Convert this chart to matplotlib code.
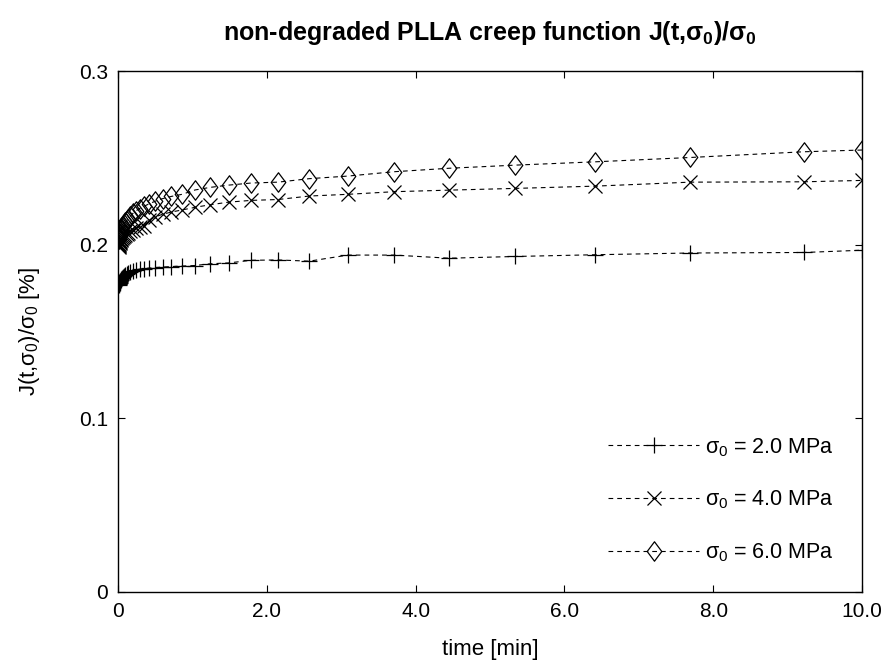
import matplotlib
matplotlib.use("Agg")
import matplotlib.pyplot as plt
from matplotlib.path import Path
from matplotlib import font_manager

names = {f.name for f in font_manager.fontManager.ttflist}
fam = ['Liberation Sans Narrow', 'Liberation Sans', 'DejaVu Sans'] if 'Liberation Sans Narrow' in names else ['Liberation Sans', 'DejaVu Sans']

plt.rcParams['font.family'] = fam
plt.rcParams['mathtext.fontset'] = 'custom'
plt.rcParams['mathtext.rm'] = fam[0]
plt.rcParams['mathtext.it'] = fam[0]
plt.rcParams['mathtext.bf'] = fam[0] + ':bold'
plt.rcParams['lines.scale_dashes'] = False

# ---- data ----
time_min = [0.0108, 0.0130, 0.0156, 0.0187, 0.0225, 0.0270, 0.0324, 0.0389, 0.0466, 0.0559,
            0.0671, 0.0806, 0.0967, 0.116, 0.139, 0.167, 0.200, 0.241, 0.289, 0.346,
            0.416, 0.499, 0.599, 0.718, 0.862, 1.035, 1.24, 1.49, 1.79, 2.15,
            2.57, 3.09, 3.71, 4.45, 5.34, 6.41, 7.69, 9.22, 10.0]

J_2MPa = [0.1768, 0.1771, 0.1774, 0.1778, 0.1782, 0.1787, 0.1792, 0.1797, 0.1803, 0.1809,
          0.1815, 0.1821, 0.1827, 0.1833, 0.1839, 0.1845, 0.1850, 0.1855, 0.1859, 0.1862,
          0.1865, 0.1868, 0.1871, 0.1874, 0.1877, 0.1880, 0.1890, 0.1895, 0.1910, 0.1912,
          0.1905, 0.1940, 0.1940, 0.1922, 0.1932, 0.1942, 0.1952, 0.1955, 0.1968]

J_4MPa = [0.1985, 0.1992, 0.1998, 0.2004, 0.2010, 0.2016, 0.2022, 0.2028, 0.2034, 0.2040,
          0.2046, 0.2052, 0.2058, 0.2064, 0.2070, 0.2078, 0.2086, 0.2094, 0.2102, 0.2110,
          0.2140, 0.2160, 0.2175, 0.2188, 0.2200, 0.2215, 0.2230, 0.2245, 0.2255, 0.2260,
          0.2280, 0.2290, 0.2305, 0.2314, 0.2324, 0.2337, 0.2360, 0.2362, 0.2370]

J_6MPa = [0.2030, 0.2038, 0.2046, 0.2054, 0.2062, 0.2070, 0.2078, 0.2086, 0.2094, 0.2102,
          0.2110, 0.2118, 0.2128, 0.2138, 0.2150, 0.2165, 0.2180, 0.2195, 0.2208, 0.2220,
          0.2235, 0.2250, 0.2265, 0.2278, 0.2290, 0.2315, 0.2330, 0.2343, 0.2355, 0.2360,
          0.2380, 0.2395, 0.2420, 0.2440, 0.2458, 0.2477, 0.2502, 0.2535, 0.2545]

series_labels = [r'$\sigma_0$ = 2.0 MPa', r'$\sigma_0$ = 4.0 MPa', r'$\sigma_0$ = 6.0 MPa']
x_ticks = [0, 2, 4, 6, 8, 10]
x_ticklabels = ['0', '2.0', '4.0', '6.0', '8.0', '10.0']
y_ticks = [0, 0.1, 0.2, 0.3]
y_ticklabels = ['0', '0.1', '0.2', '0.3']

diamond = Path([(0, 1), (0.75, 0), (0, -1), (-0.75, 0), (0, 1)],
               [Path.MOVETO, Path.LINETO, Path.LINETO, Path.LINETO, Path.CLOSEPOLY])

fig = plt.figure(figsize=(8.86, 6.68), dpi=100)
ax = fig.add_axes([0.1332, 0.1138, 0.8398, 0.7799])

dash = (3.4, 2.9)
common = dict(color='black', lw=0.8, linestyle=(0, dash), markerfacecolor='none',
              markeredgecolor='black', markeredgewidth=0.9)
ax.plot(time_min, J_2MPa, marker='+', ms=12, label=series_labels[0], **common)
ax.plot(time_min, J_4MPa, marker='x', ms=10, label=series_labels[1], **common)
ax.plot(time_min, J_6MPa, marker=diamond, ms=14, label=series_labels[2], **common)

ax.set_xlim(0, 10)
ax.set_ylim(0, 0.3)
ax.set_xticks(x_ticks)
ax.set_xticklabels(x_ticklabels)
ax.set_yticks(y_ticks)
ax.set_yticklabels(y_ticklabels)
ax.tick_params(direction='in', top=True, right=True, length=5, width=0.8,
               labelsize=15, pad=7)
for s in ax.spines.values():
    s.set_linewidth(1.0)

ax.set_xlabel('time [min]', fontsize=16, labelpad=13)
ax.set_ylabel(r'J(t,$\sigma_0$)/$\sigma_0$ [%]', fontsize=16, labelpad=27)
ax.set_title(r'non-degraded PLLA creep function J(t,$\mathbf{\sigma_0}$)/$\mathbf{\sigma_0}$',
             fontsize=18, fontweight='bold', pad=22)

leg = ax.legend(loc='lower right', frameon=False, fontsize=15.5, handlelength=4.2,
                handletextpad=0.3, labelspacing=1.4, borderaxespad=0.9, numpoints=1)

fig.savefig('out.png', dpi=100)
